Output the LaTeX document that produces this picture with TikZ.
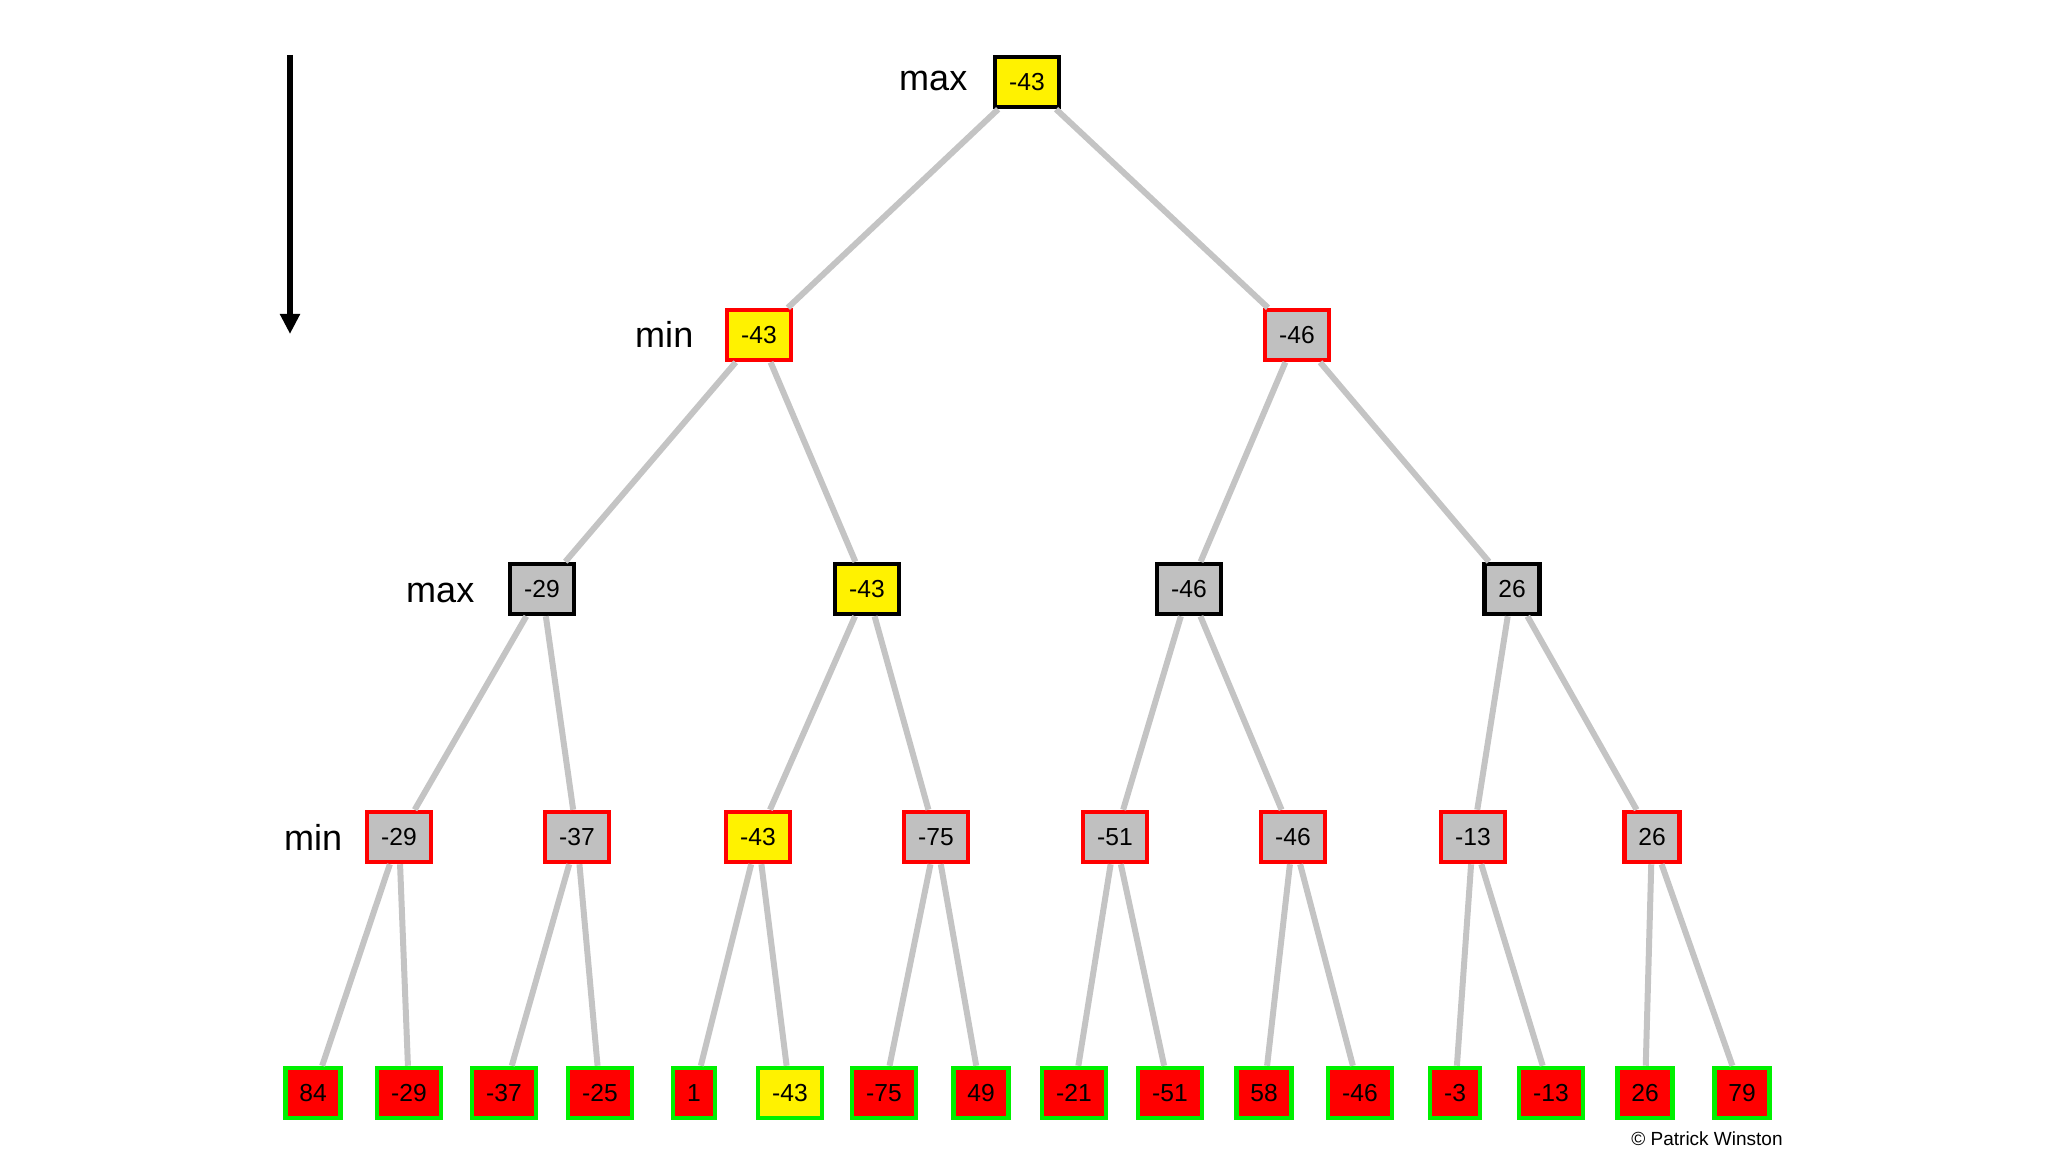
\documentclass[tikz,border=0pt]{standalone}
\usepackage{fontspec}
\setmainfont{Liberation Sans}
\usetikzlibrary{calc, positioning, arrows, arrows.meta}

\definecolor{boxgray}{RGB}{192,192,192}
\definecolor{edgegray}{RGB}{196,196,196}
\definecolor{leafgreen}{RGB}{0,240,0}

\begin{document}
\begin{tikzpicture}[x=0.01cm, y=-0.01cm,
  val/.style={draw, line width=0.45mm, minimum height=5mm, inner xsep=1.4mm, inner ysep=0pt, font=\fontsize{7}{7}\selectfont},
  maxbox/.style={val, draw=black, fill=boxgray},
  minbox/.style={val, draw=red, fill=boxgray},
  leafbox/.style={val, draw=leafgreen, fill=red},
  best/.style={fill=yellow},
  level/.style={anchor=base east, inner sep=0, font=\fontsize{10.25}{12}\selectfont},
  edge/.style={edgegray, line width=0.6mm}]

  \useasboundingbox (0,0) rectangle (2048,1152);

  % direction of play
  \coordinate (arrow-top) at (290, 55);
  \coordinate (arrow-tip) at (290, 334);
  \draw[line width=0.6mm, -{Triangle[length=2mm, width=1.9mm]}] (arrow-top) to (arrow-tip);

  % tree levels
  \node[maxbox, best] (root) at (1027, 82) {-43};

  \node[minbox, best] (min1-left)  at (759, 335)  {-43};
  \node[minbox]       (min1-right) at (1297, 335) {-46};

  \node[maxbox]       (max2-a) at (542, 589)  {-29};
  \node[maxbox, best] (max2-b) at (867, 589)  {-43};
  \node[maxbox]       (max2-c) at (1189, 589) {-46};
  \node[maxbox]       (max2-d) at (1512, 589) {26};

  \node[minbox]       (min3-a) at (399, 837)  {-29};
  \node[minbox]       (min3-b) at (577, 837)  {-37};
  \node[minbox, best] (min3-c) at (758, 837)  {-43};
  \node[minbox]       (min3-d) at (936, 837)  {-75};
  \node[minbox]       (min3-e) at (1115, 837) {-51};
  \node[minbox]       (min3-f) at (1293, 837) {-46};
  \node[minbox]       (min3-g) at (1473, 837) {-13};
  \node[minbox]       (min3-h) at (1652, 837) {26};

  % leaves
  \node[leafbox] (leaf-1)  at (313, 1093)  {84};
  \node[leafbox] (leaf-2)  at (409, 1093)  {-29};
  \node[leafbox] (leaf-3)  at (504, 1093)  {-37};
  \node[leafbox] (leaf-4)  at (600, 1093)  {-25};
  \node[leafbox] (leaf-5)  at (694, 1093)  {1};
  \node[leafbox, best] (leaf-6) at (790, 1093) {-43};
  \node[leafbox] (leaf-7)  at (884, 1093)  {-75};
  \node[leafbox] (leaf-8)  at (981, 1093)  {49};
  \node[leafbox] (leaf-9)  at (1074, 1093) {-21};
  \node[leafbox] (leaf-10) at (1170, 1093) {-51};
  \node[leafbox] (leaf-11) at (1264, 1093) {58};
  \node[leafbox] (leaf-12) at (1360, 1093) {-46};
  \node[leafbox] (leaf-13) at (1455, 1093) {-3};
  \node[leafbox] (leaf-14) at (1551, 1093) {-13};
  \node[leafbox] (leaf-15) at (1645, 1093) {26};
  \node[leafbox] (leaf-16) at (1742, 1093) {79};

  % level labels
  \node[level] (label-max0) at (968, 91)  {max};
  \node[level] (label-min1) at (694, 348) {min};
  \node[level] (label-max2) at (475, 603) {max};
  \node[level] (label-min3) at (343, 850) {min};

  % branches
  \draw[edge] (root) to (min1-left);
  \draw[edge] (root) to (min1-right);

  \draw[edge] (min1-left) to (max2-a);
  \draw[edge] (min1-left) to (max2-b);
  \draw[edge] (min1-right) to (max2-c);
  \draw[edge] (min1-right) to (max2-d);

  \draw[edge] (max2-a) to (min3-a);
  \draw[edge] (max2-a) to (min3-b);
  \draw[edge] (max2-b) to (min3-c);
  \draw[edge] (max2-b) to (min3-d);
  \draw[edge] (max2-c) to (min3-e);
  \draw[edge] (max2-c) to (min3-f);
  \draw[edge] (max2-d) to (min3-g);
  \draw[edge] (max2-d) to (min3-h);

  \draw[edge] (min3-a) to (leaf-1);
  \draw[edge] (min3-a) to (leaf-2);
  \draw[edge] (min3-b) to (leaf-3);
  \draw[edge] (min3-b) to (leaf-4);
  \draw[edge] (min3-c) to (leaf-5);
  \draw[edge] (min3-c) to (leaf-6);
  \draw[edge] (min3-d) to (leaf-7);
  \draw[edge] (min3-d) to (leaf-8);
  \draw[edge] (min3-e) to (leaf-9);
  \draw[edge] (min3-e) to (leaf-10);
  \draw[edge] (min3-f) to (leaf-11);
  \draw[edge] (min3-f) to (leaf-12);
  \draw[edge] (min3-g) to (leaf-13);
  \draw[edge] (min3-g) to (leaf-14);
  \draw[edge] (min3-h) to (leaf-15);
  \draw[edge] (min3-h) to (leaf-16);

  \node[anchor=base, inner sep=0, font=\fontsize{5.4}{6}\selectfont] (credit) at (1707, 1145) {© Patrick Winston};

\end{tikzpicture}
\end{document}
